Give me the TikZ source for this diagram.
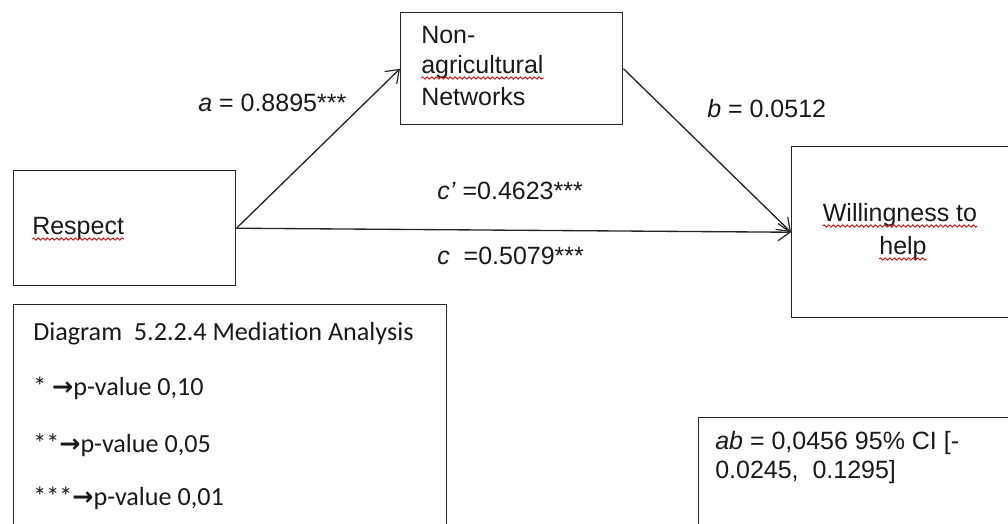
\documentclass[tikz,border=0pt]{standalone}
\usepackage{fontspec}
\setmainfont{Liberation Sans}
\newfontfamily\legendfont[Ligatures=NoCommon]{Carlito}
\newfontfamily\arrowfont{DejaVu Sans}
\usetikzlibrary{arrows.meta,decorations.pathmorphing}
\newcommand{\legarrow}{{\arrowfont\bfseries\fontsize{19}{22}\selectfont →}}
\begin{document}
\begin{tikzpicture}[x=0.75pt,y=-0.75pt,
  box/.style={draw=black!85,line width=1.1pt,rectangle,inner sep=0pt,anchor=north west},
  lbl/.style={anchor=base west,inner sep=0pt,font=\fontsize{18.75}{23}\selectfont,text=black!90},
  leg/.style={anchor=base west,inner sep=0pt,font=\legendfont\fontsize{19.6}{24}\selectfont,text=black!90},
  conn/.style={draw=black!85,line width=1pt,-{Straight Barb[length=9pt,width=13pt,line width=0.9pt]}},
  spell/.style={draw=red!85!black,line width=0.6pt,decorate,decoration={snake,amplitude=0.9pt,segment length=3.5pt}}]
\useasboundingbox (0,0) rectangle (1008,524);
% boxes
\node[box,minimum width=222*0.75pt,minimum height=115*0.75pt] (rsp) at (13,170) {};
\node[box,minimum width=222*0.75pt,minimum height=112*0.75pt] (nonag) at (400,12) {};
\node[box,minimum width=218*0.75pt,minimum height=171*0.75pt] (will) at (791,146) {};
\node[box,minimum width=433*0.75pt,minimum height=240*0.75pt] (legend) at (13,304) {};
\node[box,minimum width=320*0.75pt,minimum height=130*0.75pt] (abbox) at (698,417) {};
% box texts
\node[lbl] (trsp) at (32,235) {Respect};
\node[lbl] (tnon1) at (421,44) {Non-};
\node[lbl] (tnon2) at (421,74) {agricultural};
\node[lbl] (tnon3) at (421,106) {Networks};
\node[lbl,anchor=base] (twill1) at (900,222) {Willingness to};
\node[lbl,anchor=base] (twill2) at (903,255) {help};
% connectors
\draw[conn] (rsp.east) -- (nonag.west);
\draw[conn] (nonag.east) -- (will.west);
\draw[conn] (rsp.east) -- (will.west);
% path labels
\node[lbl] (la) at (198,112) {\textit{a} = 0.8895***};
\node[lbl] (lb) at (707,118) {\textit{b} = 0.0512};
\node[lbl] (lcp) at (437,200) {\textit{c'} =0.4623***};
\node[lbl] (lc) at (437,265) {\textit{c}~~=0.5079***};
% legend
\node[leg] (l1) at (33,340) {Diagram~ 5.2.2.4 Mediation Analysis};
\node[leg] (l2) at (33,396) {*~\legarrow p-value 0,10};
\node[leg] (l3) at (33,452) {**\legarrow p-value 0,05};
\node[leg] (l4) at (33,505) {***\legarrow p-value 0,01};
% ab text
\node[lbl] (ab1) at (715,450) {\textit{ab} = 0,0456 95\% CI [-};
\node[lbl] (ab2) at (715,478) {0.0245,~ 0.1295]};
% spell-check underlines
\draw[spell] ([yshift=-3pt]trsp.base west) -- ([yshift=-3pt]trsp.base east);
\draw[spell] ([yshift=-3pt]tnon2.base west) -- ([yshift=-3pt]tnon2.base east);
\draw[spell] ([yshift=-3pt]twill1.base west) -- ([yshift=-3pt]twill1.base east);
\draw[spell] ([yshift=-3pt]twill2.base west) -- ([yshift=-3pt]twill2.base east);
\end{tikzpicture}
\end{document}
